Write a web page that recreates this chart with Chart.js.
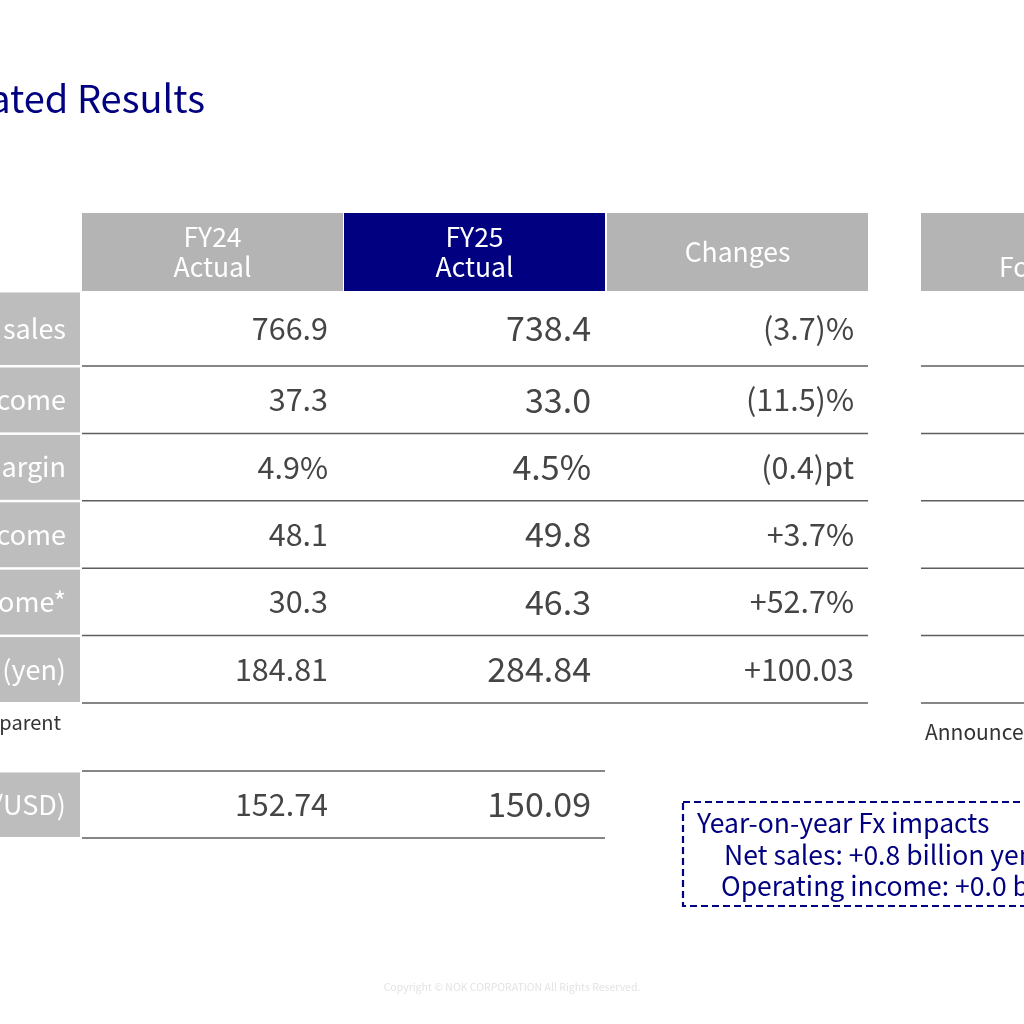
<!DOCTYPE html>
<html>
<head>
<meta charset="utf-8">
<script src="https://cdn.jsdelivr.net/npm/chart.js@4/dist/chart.umd.min.js"></script>
<style>
  html, body { margin: 0; padding: 0; background: #ffffff; }
  #wrap { width: 1024px; height: 1024px; }
</style>
</head>
<body>
<div id="wrap"><canvas id="table" width="1024" height="1024"></canvas></div>
<script>
// table content
const headers = ['FY24\nActual', 'FY25\nActual', 'Changes'];
const forecastHeader = 'FY26\nForecast';
const rowLabels = ['Net sales', 'Operating income', 'Operating margin', 'Ordinary income', 'Net income*', 'EPS (yen)'];
const fy24Actual = ['766.9', '37.3', '4.9%', '48.1', '30.3', '184.81'];
const fy25Actual = ['738.4', '33.0', '4.5%', '49.8', '46.3', '284.84'];
const changes = ['(3.7)%', '(11.5)%', '(0.4)pt', '+3.7%', '+52.7%', '+100.03'];
const fxLabel = 'Exchange rate (yen/USD)';
const fxValues = ['152.74', '150.09'];
const footnote = '* Net income attributable to owners of parent';
const forecastNote = 'Announced on May 13, 2025';
const fxImpacts = ['Year-on-year Fx impacts', 'Net sales: +0.8 billion yen', 'Operating income: +0.0 billion yen'];
const title = 'FY2025 Consolidated Results';
const copyright = 'Copyright \u00A9 NOK CORPORATION All Rights Reserved.';

const NAVY = '#000080';
const GREY = '#b4b4b4';
const TEXT = '#454545';
const FONT = '"Noto Sans CJK JP", "Noto Sans", sans-serif';

const tablePlugin = {
    id: 'tablePlugin',
    afterDraw(chart) {
        const ctx = chart.ctx;
        const X = v => chart.scales.x.getPixelForValue(v);
        const Y = v => chart.scales.y.getPixelForValue(v);

        function text(str, x, y, align, size, color) {
            ctx.save();
            ctx.font = size + 'px ' + FONT;
            ctx.fillStyle = color;
            ctx.textAlign = align;
            ctx.textBaseline = 'middle';
            ctx.fillText(str, X(x), Y(y));
            ctx.restore();
        }
        function box(x0, y0, x1, y1, color) {
            ctx.fillStyle = color;
            ctx.fillRect(X(x0), Y(y0), X(x1) - X(x0), Y(y1) - Y(y0));
        }
        function hline(x0, x1, y) {
            ctx.save();
            ctx.strokeStyle = '#5e5e5e';
            ctx.lineWidth = 1.5;
            ctx.beginPath();
            ctx.moveTo(X(x0), Y(y));
            ctx.lineTo(X(x1), Y(y));
            ctx.stroke();
            ctx.restore();
        }

        // title
        text(title, 205, 99, 'right', 38, NAVY);

        // header cells
        const colLeft = [82, 344, 607];
        const colW = 261;
        const headTop = 213, headBot = 291;
        headers.forEach((h, i) => {
            box(colLeft[i], headTop, colLeft[i] + colW, headBot, i === 1 ? NAVY : GREY);
            const lines = h.split('\n');
            const cx = colLeft[i] + colW / 2;
            if (lines.length === 1) {
                text(lines[0], cx, 252, 'center', 26.5, '#ffffff');
            } else {
                text(lines[0], cx, 237, 'center', 26.5, '#ffffff');
                text(lines[1], cx, 267, 'center', 26.5, '#ffffff');
            }
        });
        const fcLeft = 921;
        box(fcLeft, headTop, fcLeft + colW, headBot, GREY);
        forecastHeader.split('\n').forEach((l, k) => {
            text(l, fcLeft + colW / 2, 237 + k * 30, 'center', 26.5, '#ffffff');
        });

        // body rows
        const rowH = 67.4;
        const firstBot = 366;
        const rowTop = i => (i === 0 ? headBot : firstBot + (i - 1) * rowH);
        const rowBot = i => firstBot + i * rowH;
        rowLabels.forEach((lab, i) => {
            const t = rowTop(i), b = rowBot(i);
            const mid = (t + b) / 2;
            box(0, t + 1.5, 80, b - 1, '#bdbdbd');
            text(lab, 66, mid, 'right', 27, '#ffffff');
            text(fy24Actual[i], 328, mid, 'right', 30.5, TEXT);
            text(fy25Actual[i], 591, mid, 'right', 34, TEXT);
            text(changes[i], 854, mid, 'right', 30.5, TEXT);
            hline(82, 868, b);
            hline(fcLeft, 1024, b);
        });

        text(footnote, 61, 722, 'right', 20, '#333333');
        text(forecastNote, 925, 732, 'left', 21, '#333333');

        // exchange rate row
        const fxTop = 771, fxBot = 838;
        const fxMid = (fxTop + fxBot) / 2;
        hline(82, 605, fxTop);
        hline(82, 605, fxBot);
        box(0, fxTop + 1.5, 80, fxBot - 1, '#bdbdbd');
        text(fxLabel, 66, fxMid, 'right', 27, '#ffffff');
        text(fxValues[0], 328, fxMid, 'right', 30.5, TEXT);
        text(fxValues[1], 591, fxMid, 'right', 34, TEXT);

        // fx impact box
        ctx.save();
        ctx.strokeStyle = NAVY;
        ctx.lineWidth = 2.2;
        ctx.setLineDash([7, 4]);
        ctx.strokeRect(X(683), Y(802), X(1100) - X(683), Y(906) - Y(802));
        ctx.restore();
        text(fxImpacts[0], 697, 823, 'left', 26.5, NAVY);
        text(fxImpacts[1], 724, 855, 'left', 26.5, NAVY);
        text(fxImpacts[2], 721, 886, 'left', 26.5, NAVY);

        // footer
        text(copyright, 512, 987, 'center', 10.5, '#e3e3e3');
    }
};

new Chart(document.getElementById('table').getContext('2d'), {
    type: 'scatter',
    data: { datasets: [{ data: [] }] },
    options: {
        responsive: false,
        animation: false,
        layout: { padding: 0 },
        plugins: { legend: { display: false }, tooltip: { enabled: false } },
        scales: {
            x: { type: 'linear', min: 0, max: 1024, display: false },
            y: { type: 'linear', min: 0, max: 1024, reverse: true, display: false }
        }
    },
    plugins: [tablePlugin]
});
</script>
</body>
</html>
